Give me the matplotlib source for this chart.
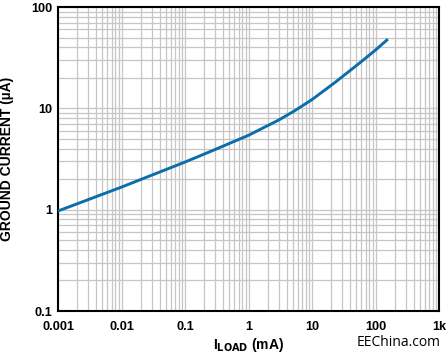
import matplotlib
matplotlib.use("Agg")
import matplotlib.pyplot as plt
from matplotlib.ticker import LogLocator, NullFormatter, FixedLocator

# Data
i_load = [0.001, 0.01, 0.1, 0.3, 1, 3, 5.3, 10, 23, 57, 100, 157]
ground_current = [0.97, 1.67, 2.95, 3.93, 5.42, 7.67, 9.44, 12.2, 18.0, 28.2, 37.6, 48.2]

x_ticks = [0.001, 0.01, 0.1, 1, 10, 100, 1000]
x_tick_labels = ["0.001", "0.01", "0.1", "1", "10", "100", "1k"]
y_ticks = [0.1, 1, 10, 100]
y_tick_labels = ["0.1", "1", "10", "100"]

plt.rcParams['font.family'] = ['Liberation Sans', 'DejaVu Sans']

fig = plt.figure(figsize=(4.48, 3.56), dpi=100)
ax = fig.add_axes([58/448, 1 - 311/356, 381/448, 304/356])

ax.set_xscale('log')
ax.set_yscale('log')
ax.set_xlim(0.001, 1000)
ax.set_ylim(0.1, 100)

ax.plot(i_load, ground_current, color='#0a6eaa', lw=2.1, solid_capstyle='butt',
        solid_joinstyle='round', zorder=3)

ax.xaxis.set_major_locator(FixedLocator(x_ticks))
ax.set_xticklabels(x_tick_labels)
ax.yaxis.set_major_locator(FixedLocator(y_ticks))
ax.set_yticklabels(y_tick_labels)
ax.xaxis.set_minor_locator(LogLocator(base=10, subs=range(2, 10), numticks=20))
ax.yaxis.set_minor_locator(LogLocator(base=10, subs=range(2, 10), numticks=20))
ax.xaxis.set_minor_formatter(NullFormatter())
ax.yaxis.set_minor_formatter(NullFormatter())

ax.grid(True, which='both', color='#c6c6c6', lw=0.9)
ax.tick_params(which='both', length=0)
ax.tick_params(axis='x', pad=7)
ax.tick_params(axis='y', pad=4)
for lbl in ax.get_xticklabels() + ax.get_yticklabels():
    lbl.set_fontweight('bold')
    lbl.set_fontsize(9.2)

for sp in ax.spines.values():
    sp.set_linewidth(1.5)
    sp.set_color('black')

ax.set_xlabel(r'I$_{\mathbf{LOAD}}$ (mA)', fontsize=10, fontweight='bold', va='center')
ax.xaxis.set_label_coords(0.5, -0.112)
ax.set_ylabel('GROUND CURRENT (µA)', fontsize=10, fontweight='bold', va='center')
ax.yaxis.set_label_coords(-0.135, 0.5)

fig.text(441/448, 1 - 342/356, 'EEChina.com', ha='right', va='center', fontsize=10,
         family=['Open Sans', 'DejaVu Sans'])

fig.savefig('out.png', dpi=100)
